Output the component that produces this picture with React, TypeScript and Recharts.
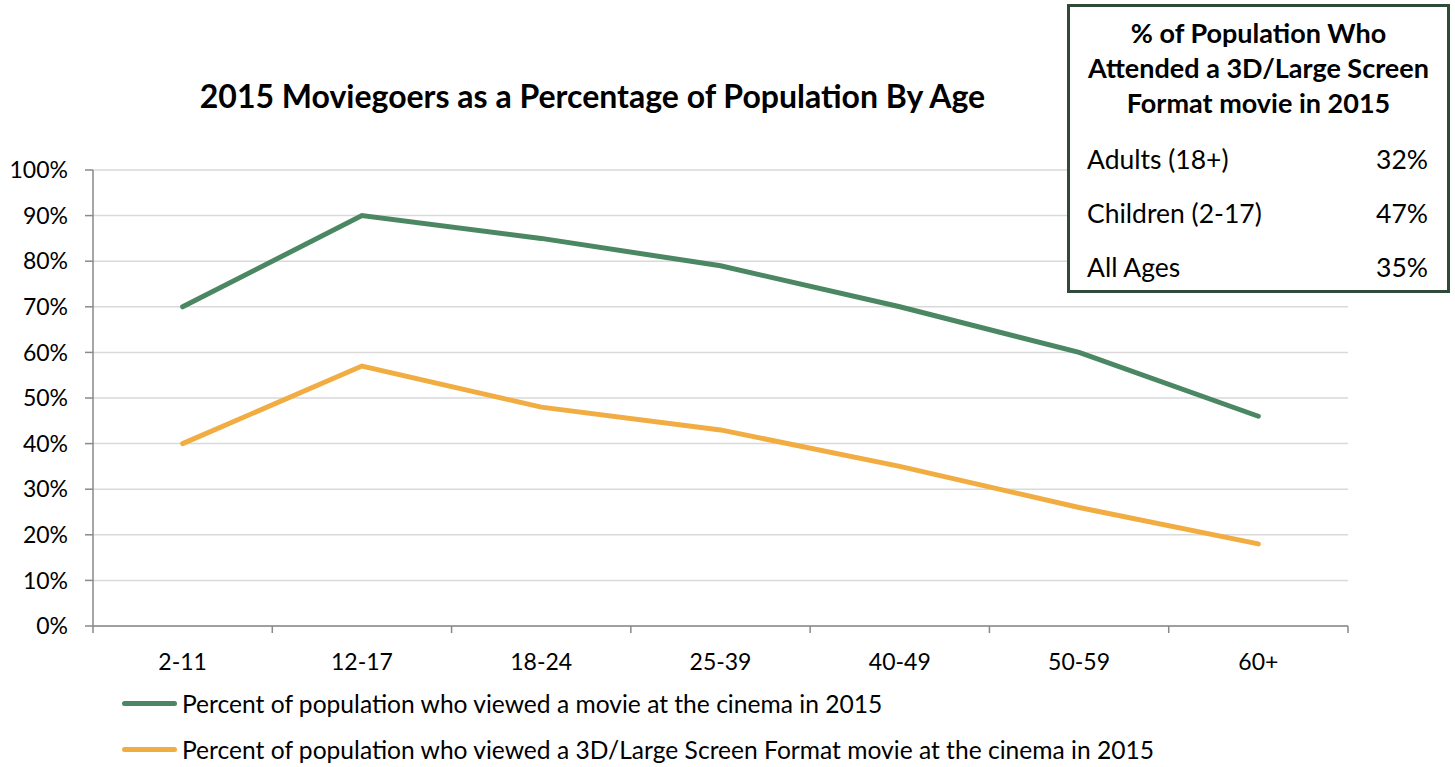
import { LineChart, Line, XAxis, YAxis, CartesianGrid } from "recharts"

const ages = ["2-11", "12-17", "18-24", "25-39", "40-49", "50-59", "60+"]
const cinemaPct = [70, 90, 85, 79, 70, 60, 46]
const largeFormatPct = [40, 57, 48, 43, 35, 26, 18]
const yTicks = [0, 10, 20, 30, 40, 50, 60, 70, 80, 90, 100]

const boxTitle = ["% of Population Who", "Attended a 3D/Large Screen", "Format movie in 2015"]
const boxLabels = ["Adults (18+)", "Children (2-17)", "All Ages"]
const boxValues = ["32%", "47%", "35%"]

const seriesNames = [
  "Percent of population who viewed a movie at the cinema in 2015",
  "Percent of population who viewed a 3D/Large Screen Format movie at the cinema in 2015",
]

const data = ages.map((age, i) => ({
  age,
  cinema: cinemaPct[i],
  large: largeFormatPct[i],
}))

const W = 1455
const H = 767
const PLOT_L = 93
const PLOT_R = 1348
const PLOT_T = 170
const PLOT_B = 626
const band = (PLOT_R - PLOT_L) / ages.length

const GREEN = "#4b8763"
const ORANGE = "#f1ad42"
const FONT = "Lato, 'Open Sans', sans-serif"

function AgeTick(props: any) {
  const { x, payload, index } = props
  const last = index === ages.length - 1
  return (
    <g>
      <line x1={x - band / 2} x2={x - band / 2} y1={PLOT_B} y2={PLOT_B + 7} stroke="#898989" strokeWidth={1.5} />
      {last && (
        <line x1={x + band / 2} x2={x + band / 2} y1={PLOT_B} y2={PLOT_B + 7} stroke="#898989" strokeWidth={1.5} />
      )}
      <text x={x} y={PLOT_B + 44} textAnchor="middle" fontSize={23} fill="#000" fontFamily={FONT}>
        {payload.value}
      </text>
    </g>
  )
}

function LegendBlock() {
  const colors = [GREEN, ORANGE]
  return (
    <div style={{ position: "absolute", left: 122, top: 680, fontFamily: FONT, fontSize: 24.6, color: "#000" }}>
      {seriesNames.map((n, i) => (
        <div key={n} style={{ display: "flex", alignItems: "center", height: 46, whiteSpace: "nowrap" }}>
          <div style={{ width: 55, height: 5, borderRadius: 3, background: colors[i], marginRight: 5 }} />
          <span>{n}</span>
        </div>
      ))}
    </div>
  )
}

export default function App() {
  return (
    <div style={{ position: "absolute", left: 0, top: 0, width: W, height: H, background: "#fff", fontFamily: FONT }}>
      <div
        style={{
          position: "absolute",
          left: 0,
          width: 1185,
          top: 76,
          textAlign: "center",
          fontWeight: 700,
          fontSize: 32,
          color: "#000",
          whiteSpace: "nowrap",
        }}
      >
        2015 Moviegoers as a Percentage of Population By Age
      </div>
      <LineChart
        width={W}
        height={H}
        data={data}
        margin={{ top: PLOT_T, right: W - PLOT_R, left: PLOT_L - 80, bottom: H - PLOT_B - 141 }}
      >
        <CartesianGrid vertical={false} stroke="#d9d9d9" strokeWidth={1.5} />
        <XAxis
          dataKey="age"
          height={141}
          padding={{ left: band / 2, right: band / 2 }}
          tickLine={false}
          axisLine={{ stroke: "#898989", strokeWidth: 1.5 }}
          tick={<AgeTick />}
          interval={0}
        />
        <YAxis
          width={80}
          domain={[0, 100]}
          ticks={yTicks}
          tickFormatter={(v) => `${v}%`}
          tickSize={8}
          tickMargin={17}
          axisLine={{ stroke: "#898989", strokeWidth: 1.5 }}
          tickLine={{ stroke: "#898989", strokeWidth: 1.5 }}
          tick={{ fill: "#000", fontSize: 23, fontFamily: FONT }}
        />
        <Line
          dataKey="cinema"
          name={seriesNames[0]}
          stroke={GREEN}
          strokeWidth={5}
          strokeLinecap="round"
          dot={false}
          type="linear"
          isAnimationActive={false}
        />
        <Line
          dataKey="large"
          name={seriesNames[1]}
          stroke={ORANGE}
          strokeWidth={5}
          strokeLinecap="round"
          dot={false}
          type="linear"
          isAnimationActive={false}
        />
      </LineChart>
      <LegendBlock />
      <div
        style={{
          position: "absolute",
          left: 1067,
          top: 4,
          width: 383,
          height: 289,
          boxSizing: "border-box",
          border: "3px solid #2f4a38",
          background: "#fff",
          color: "#000",
        }}
      >
        <div style={{ textAlign: "center", fontWeight: 700, fontSize: 27, lineHeight: "35px", marginTop: 8 }}>
          {boxTitle.map((t) => (
            <div key={t}>{t}</div>
          ))}
        </div>
        <div style={{ marginTop: 12 }}>
          {boxLabels.map((l, i) => (
            <div
              key={l}
              style={{
                display: "flex",
                justifyContent: "space-between",
                fontSize: 26.5,
                height: 54,
                lineHeight: "54px",
                padding: "0 19px 0 17px",
              }}
            >
              <span>{l}</span>
              <span>{boxValues[i]}</span>
            </div>
          ))}
        </div>
      </div>
    </div>
  )
}
